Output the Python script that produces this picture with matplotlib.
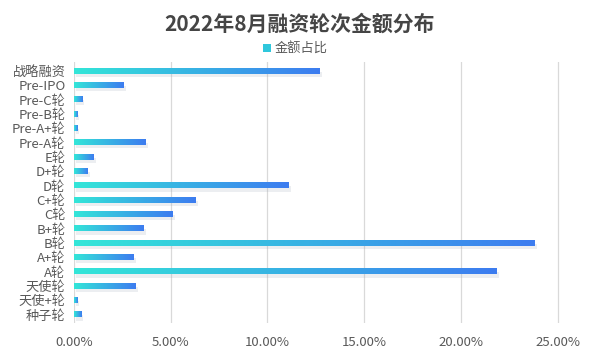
import numpy as np
import matplotlib.pyplot as plt
from matplotlib.colors import LinearSegmentedColormap
from matplotlib.ticker import FuncFormatter

plt.rcParams['font.family'] = ['Noto Sans CJK SC', 'DejaVu Sans']

categories = ['战略融资', 'Pre-IPO', 'Pre-C轮', 'Pre-B轮', 'Pre-A+轮', 'Pre-A轮', 'E轮', 'D+轮', 'D轮',
              'C+轮', 'C轮', 'B+轮', 'B轮', 'A+轮', 'A轮', '天使轮', '天使+轮', '种子轮']
shares = [12.7, 2.56, 0.42, 0.16, 0.16, 3.7, 1.02, 0.71, 11.1,
          6.3, 5.1, 3.6, 23.8, 3.1, 21.85, 3.2, 0.16, 0.38]
xticks = [0, 5, 10, 15, 20, 25]

cmap = LinearSegmentedColormap.from_list('bar', ['#33e6d8', '#3d7cf0'])
grad = np.linspace(0, 1, 256).reshape(1, -1)

fig = plt.figure(figsize=(6, 3.55), dpi=100)
ax = fig.add_axes([0.123, 0.089, 0.845, 0.735])

n = len(categories)
ypos = np.arange(n)
h = 0.36
for y, v in zip(ypos, shares):
    # soft shadow
    ax.barh(y + 0.22, v, height=h, left=0.12, color='#9aa3b5', alpha=0.18, zorder=2, linewidth=0)
    ax.imshow(grad, cmap=cmap, aspect='auto', extent=[0, v, y + h / 2, y - h / 2],
              zorder=3, interpolation='bilinear')

ax.set_xlim(0, 26.2)
ax.set_ylim(n - 0.4, -0.6)
ax.set_xticks(xticks)
ax.xaxis.set_major_formatter(FuncFormatter(lambda x, p: f'{x:.2f}%'))
ax.set_yticks(ypos)
ax.set_yticklabels(categories)
ax.tick_params(axis='both', length=0, colors='#595959', labelsize=9.5)
ax.tick_params(axis='x', pad=9)
ax.tick_params(axis='y', pad=6)
for s in ax.spines.values():
    s.set_visible(False)
ax.grid(axis='x', color='#d9d9d9', linewidth=0.9, zorder=0)
ax.set_axisbelow(True)

fig.text(0.5, 0.932, '2022年8月融资轮次金额分布', ha='center', va='center',
         fontsize=15, fontweight='bold', color='#454545')
fig.patches.append(plt.Rectangle((0.438, 0.853), 0.014, 0.024, transform=fig.transFigure,
                                 facecolor='#2fc7dc', edgecolor='none'))
fig.text(0.458, 0.865, '金额占比', ha='left', va='center', fontsize=9.5, color='#595959')

fig.savefig('out.png', dpi=100)
